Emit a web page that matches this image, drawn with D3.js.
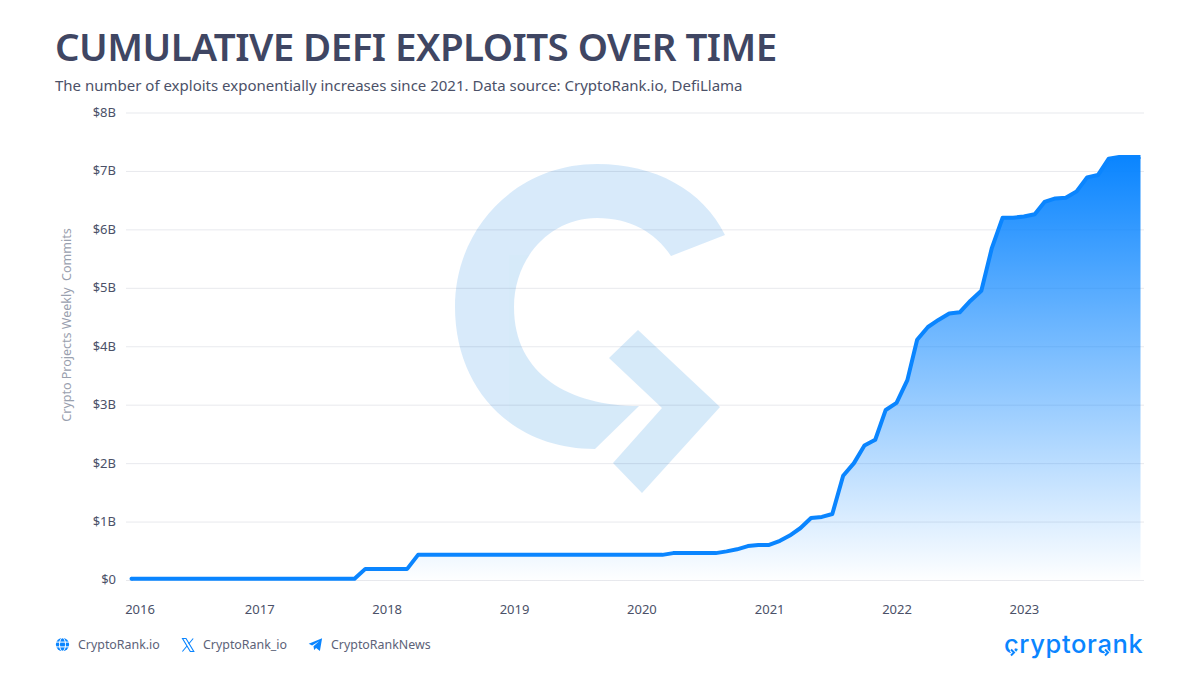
<!DOCTYPE html>
<html>
<head>
<meta charset="utf-8">
<script src="https://cdn.jsdelivr.net/npm/d3@7"></script>
<style>
  body { margin: 0; background: #fff; }
  svg { display: block; font-family: "Noto Sans", sans-serif; }
  .grid .tick line { stroke: #1e2a50; stroke-opacity: 0.1; }
  .tick text { font-family: "Noto Sans", sans-serif; font-size: 13px; fill: #4b5168; }
  .foot { font-size: 12.4px; fill: #5c6278; }
</style>
</head>
<body>
<div id="chart"></div>
<script>
const months = [
  "2016-01","2016-02","2016-03","2016-04","2016-05","2016-06","2016-07","2016-08","2016-09","2016-10","2016-11","2016-12",
  "2017-01","2017-02","2017-03","2017-04","2017-05","2017-06","2017-07","2017-08","2017-09","2017-10","2017-11","2017-12",
  "2018-01","2018-02","2018-03","2018-04","2018-05","2018-06","2018-07","2018-08","2018-09","2018-10","2018-11","2018-12",
  "2019-01","2019-02","2019-03","2019-04","2019-05","2019-06","2019-07","2019-08","2019-09","2019-10","2019-11","2019-12",
  "2020-01","2020-02","2020-03","2020-04","2020-05","2020-06","2020-07","2020-08","2020-09","2020-10","2020-11","2020-12",
  "2021-01","2021-02","2021-03","2021-04","2021-05","2021-06","2021-07","2021-08","2021-09","2021-10","2021-11","2021-12",
  "2022-01","2022-02","2022-03","2022-04","2022-05","2022-06","2022-07","2022-08","2022-09","2022-10","2022-11","2022-12",
  "2023-01","2023-02","2023-03","2023-04","2023-05","2023-06","2023-07","2023-08","2023-09","2023-10","2023-11","2023-12"
];

// cumulative exploits in $B
const exploits = [
  0.02,0.02,0.02,0.02,0.02,0.02,0.02,0.02,0.02,0.02,0.02,0.02,
  0.02,0.02,0.02,0.02,0.02,0.02,0.02,0.02,0.02,0.02,0.19,0.19,
  0.19,0.19,0.19,0.43,0.43,0.43,0.43,0.43,0.43,0.43,0.43,0.43,
  0.43,0.43,0.43,0.43,0.43,0.43,0.43,0.43,0.43,0.43,0.43,0.43,
  0.43,0.43,0.43,0.46,0.46,0.46,0.46,0.46,0.49,0.525,0.58,0.60,
  0.60,0.67,0.76,0.89,1.06,1.08,1.13,1.785,2.0,2.30,2.40,2.91,
  3.03,3.42,4.11,4.33,4.45,4.56,4.58,4.78,4.95,5.68,6.20,6.20,
  6.22,6.26,6.47,6.53,6.54,6.65,6.89,6.93,7.21,7.24,7.24,7.24
];

const yTicks = [0, 1, 2, 3, 4, 5, 6, 7, 8];
const xTickYears = ["2016", "2017", "2018", "2019", "2020", "2021", "2022", "2023"];
const footLinks = ["CryptoRank.io", "CryptoRank_io", "CryptoRankNews"];

const blue = "#0a85ff";
const ink = "#3f4663";

const parseMonth = d3.timeParse("%Y-%m");
const parseYear = d3.timeParse("%Y");
const data = months.map((m, i) => ({ date: parseMonth(m), value: exploits[i] }));

const svg = d3.select("#chart").append("svg")
  .attr("width", 1200)
  .attr("height", 675);

const xScale = d3.scaleTime()
  .domain(d3.extent(data, d => d.date))
  .range([131.5, 1140.5]);

const yScale = d3.scaleLinear()
  .domain([0, 8])
  .range([580, 112.5]);

// Title
svg.append("text")
  .attr("x", 55).attr("y", 61)
  .attr("font-size", 38.5).attr("font-weight", 600)
  .attr("letter-spacing", -0.54)
  .attr("fill", ink)
  .text("CUMULATIVE DEFI EXPLOITS OVER TIME");

svg.append("text")
  .attr("x", 55).attr("y", 91)
  .attr("font-size", 15)
  .attr("fill", "#4b5168")
  .text("The number of exploits exponentially increases since 2021. Data source: CryptoRank.io, DefiLlama");

// Watermark
const mark = svg.append("g").attr("fill", "#0a7fe0").attr("opacity", 0.16);
mark.append("path").attr("d",
  "M725,235 C703,190 655,164 597,164 C517,164 455,227 455,307 C455,387 510,449 595,449 " +
  "L639,406 C570,406 514,375 514,307 C514,258 550,218 597,218 C630,218 655,232 671,256 Z");
mark.append("path").attr("d", "M638,330 L720,407 L642,493 L613,463 L662,408 L609,358 Z");

// Grid and y axis
const yAxis = d3.axisLeft(yScale)
  .tickValues(yTicks)
  .tickSize(-1018)
  .tickPadding(10)
  .tickFormat(d => d === 0 ? "$0" : `$${d}B`);

svg.append("g")
  .attr("class", "grid")
  .attr("transform", "translate(126,0)")
  .call(yAxis)
  .call(g => g.select(".domain").remove())
  .selectAll("text").attr("dy", "0.3em");

// X axis
const xAxis = d3.axisBottom(xScale)
  .tickValues(xTickYears.map(parseYear))
  .tickSize(0)
  .tickPadding(0)
  .tickFormat(d3.timeFormat("%Y"));

svg.append("g")
  .attr("transform", "translate(0,605)")
  .call(xAxis)
  .call(g => g.select(".domain").remove())
  .selectAll("text")
  .attr("dx", (d, i) => i === 0 ? 8 : 0);

// Y axis title
svg.append("text")
  .attr("transform", "translate(71,325) rotate(-90)")
  .attr("text-anchor", "middle")
  .attr("font-size", 12.5)
  .attr("fill", "#99a0ae")
  .style("white-space", "pre")
  .text("Crypto Projects Weekly  Commits");

// Area + line
const defs = svg.append("defs");
const grad = defs.append("linearGradient")
  .attr("id", "areaFill")
  .attr("gradientUnits", "userSpaceOnUse")
  .attr("x1", 0).attr("x2", 0)
  .attr("y1", yScale(d3.max(exploits))).attr("y2", 582);
grad.append("stop").attr("offset", 0).attr("stop-color", blue).attr("stop-opacity", 1);
grad.append("stop").attr("offset", 1).attr("stop-color", blue).attr("stop-opacity", 0);

const area = d3.area()
  .x(d => xScale(d.date))
  .y0(582)
  .y1(d => yScale(d.value));

const line = d3.line()
  .x(d => xScale(d.date))
  .y(d => yScale(d.value));

svg.append("path")
  .datum(data)
  .attr("fill", "url(#areaFill)")
  .attr("d", area);

svg.append("path")
  .datum(data)
  .attr("fill", "none")
  .attr("stroke", blue)
  .attr("stroke-width", 4)
  .attr("stroke-linejoin", "round")
  .attr("stroke-linecap", "butt")
  .attr("d", line);

// rounded start of the line
svg.append("circle")
  .attr("cx", xScale(data[0].date))
  .attr("cy", yScale(data[0].value))
  .attr("r", 2)
  .attr("fill", blue);

// Footer links
const footX = [78, 203, 331];
footLinks.forEach((t, i) => {
  svg.append("text")
    .attr("class", "foot")
    .attr("x", footX[i]).attr("y", 649)
    .text(t);
});

const globe = svg.append("g")
  .attr("transform", "translate(62.5,644.5)")
  .attr("fill", "none").attr("stroke", blue).attr("stroke-width", 1.5);
globe.append("circle").attr("r", 6.6).attr("fill", blue).attr("stroke", "none");
globe.append("ellipse").attr("rx", 3).attr("ry", 6.6).attr("stroke", "#fff").attr("stroke-width", 1);
globe.append("path").attr("d", "M-6.6,-2.4H6.6M-6.6,2.4H6.6").attr("stroke", "#fff").attr("stroke-width", 1);

const xIcon = svg.append("g")
  .attr("transform", "translate(188,645)")
  .attr("fill", "none").attr("stroke", blue);
xIcon.append("path").attr("d", "M-5.5,-6.5L-2,-6.5L5.8,6.5L2.3,6.5Z").attr("stroke-width", 1.1);
xIcon.append("path").attr("d", "M5.2,-6.5L0.6,-1M-1,1L-5.6,6.5").attr("stroke-width", 1.1);

svg.append("path")
  .attr("transform", "translate(315.5,644.5)")
  .attr("fill", blue)
  .attr("d", "M-6.8,-0.8L6.6,-6.2L4.4,6.4L0.6,3.6L-1.4,5.6L-2,1.8L3.6,-3.2L-3.4,1Z");

// Brand
svg.append("text")
  .attr("x", 1143.5).attr("y", 653)
  .attr("text-anchor", "end")
  .attr("font-family", "Inter")
  .attr("font-size", 25.5)
  .attr("font-weight", 500)
  .attr("letter-spacing", 0.65)
  .attr("fill", blue)
  .text("cryptorank");

// little arrows in the "c" and the "a" of the brand
[[1014, 651], [1108, 651]].forEach(([ax, ay]) => {
  svg.append("path")
    .attr("transform", `translate(${ax},${ay})`)
    .attr("fill", "none")
    .attr("stroke", "#fff")
    .attr("stroke-width", 4)
    .attr("d", "M-3,-1.5L0,1.5L-3,4.5");
  svg.append("path")
    .attr("transform", `translate(${ax},${ay})`)
    .attr("fill", "none")
    .attr("stroke", blue)
    .attr("stroke-width", 2)
    .attr("d", "M-3,-1.5L0,1.5L-3,4.5");
});
</script>
</body>
</html>
